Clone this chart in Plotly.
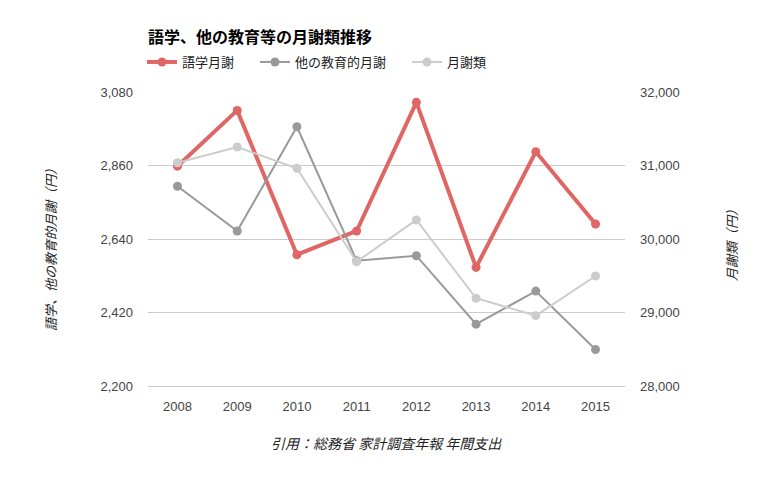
import plotly.graph_objects as go

years = ["2008", "2009", "2010", "2011", "2012", "2013", "2014", "2015"]
gogaku = [2858, 3025, 2593, 2664, 3049, 2555, 2901, 2685]
sonota = [2798, 2664, 2976, 2575, 2590, 2385, 2484, 2309]
gessha = [31038, 31252, 30962, 29691, 30259, 29194, 28957, 29497]

JP = "Noto Sans CJK JP, Liberation Sans, Arial, sans-serif"
NUM = "Liberation Sans, Arial, sans-serif"

# the page body adds an 8px margin, so the figure is drawn 8px smaller
W, H = 765, 470
L, R, T, B = 140, 148, 84, 92
PW, PH = W - L - R, H - T - B

fig = go.Figure()
fig.add_trace(go.Scatter(
    x=years, y=gogaku, name="語学月謝", mode="lines+markers", legend="legend",
    line=dict(color="#e06666", width=4), marker=dict(size=9, color="#e06666"),
))
fig.add_trace(go.Scatter(
    x=years, y=sonota, name="他の教育的月謝", mode="lines+markers", legend="legend2",
    line=dict(color="#999999", width=2), marker=dict(size=9, color="#999999"),
))
fig.add_trace(go.Scatter(
    x=years, y=gessha, name="月謝類", mode="lines+markers", yaxis="y2", legend="legend3",
    line=dict(color="#cccccc", width=2), marker=dict(size=9, color="#cccccc"),
))

leg_font = dict(family=JP, size=13, color="#222222")
leg_y = 1 + (84 - 54) / PH


def legend_at(px):
    return dict(orientation="h", x=px / PW, xanchor="left", y=leg_y, yanchor="middle",
                font=leg_font, bgcolor="rgba(0,0,0,0)")


fig.update_layout(
    width=W, height=H,
    margin=dict(l=L, r=R, t=T, b=B),
    paper_bgcolor="white", plot_bgcolor="white",
    font=dict(family=JP, size=12, color="#444444"),
    showlegend=True,
    title=dict(text="<b>語学、他の教育等の月謝類推移</b>", x=L / W, xanchor="left",
               y=1 - 29 / H, yanchor="middle",
               font=dict(family=JP, size=16, color="#000000")),
    legend=legend_at(-6),
    legend2=legend_at(107),
    legend3=legend_at(259),
    xaxis=dict(type="category", showgrid=False, showline=True, linecolor="#cccccc",
               ticks="", ticklabelstandoff=8,
               tickfont=dict(family=NUM, size=13, color="#444444")),
    yaxis=dict(range=[2200, 3080], dtick=220, tick0=2200, tickformat=",",
               gridcolor="#cccccc", zeroline=False, ticks="", ticklabelstandoff=14,
               tickfont=dict(family=NUM, size=13, color="#444444")),
    yaxis2=dict(range=[28000, 32000], dtick=1000, tick0=28000, tickformat=",",
                overlaying="y", side="right", showgrid=False, zeroline=False,
                ticks="", ticklabelstandoff=14,
                tickfont=dict(family=NUM, size=13, color="#444444")),
    annotations=[
        dict(text="<i>語学、他の教育的月謝（円）</i>", xref="paper", yref="paper",
             x=(42 - L) / PW, xanchor="center", y=(H - B - 239) / PH, yanchor="middle",
             textangle=-90, showarrow=False,
             font=dict(family=JP, size=13, color="#222222")),
        dict(text="<i>月謝類（円）</i>", xref="paper", yref="paper",
             x=(723 - L) / PW, xanchor="center", y=(H - B - 234) / PH, yanchor="middle",
             textangle=-90, showarrow=False,
             font=dict(family=JP, size=13, color="#222222")),
        dict(text="<i>引用：総務省 家計調査年報 年間支出</i>", xref="paper", yref="paper",
             x=0.5, y=-(435 - (H - B)) / PH, yanchor="middle", showarrow=False,
             font=dict(family=JP, size=14, color="#222222")),
    ],
)

fig.write_html("out.html")
